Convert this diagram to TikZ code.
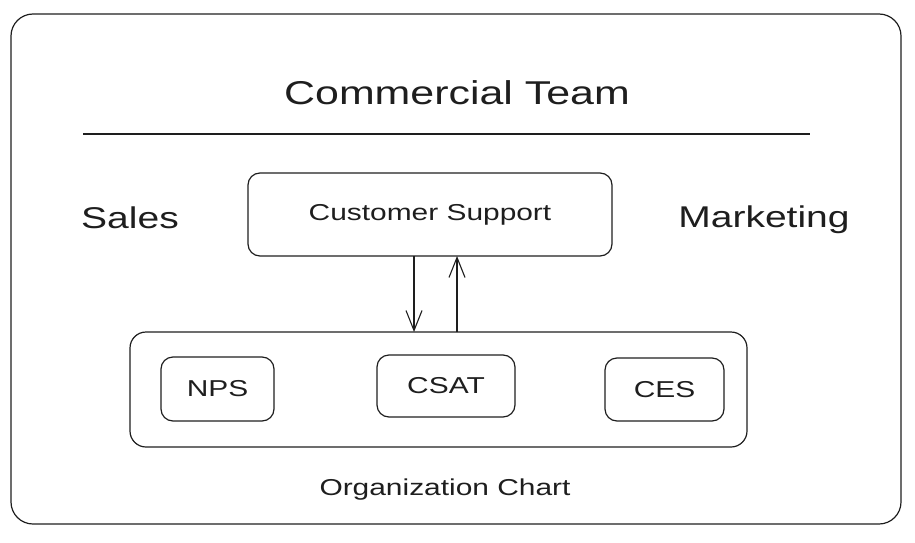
\documentclass[tikz,border=0pt]{standalone}
\usepackage{fontspec}
\setmainfont{Liberation Sans}[FakeStretch=1.3]
\usetikzlibrary{arrows.meta}
\definecolor{ink}{HTML}{1E1E1E}

\begin{document}
\begin{tikzpicture}[x=1pt, y=-1pt, line width=1.2pt, draw=ink, text=ink,
    box/.style={draw, rounded corners=12pt, inner sep=0pt, outer sep=0pt},
    titletext/.style={anchor=base, font=\fontsize{33}{40}\selectfont},
    sidetext/.style={anchor=base, font=\fontsize{30}{36}\selectfont},
    smalltext/.style={font=\fontsize{23}{28}\selectfont},
    flow/.style={-{Straight Barb[length=20pt, width=16pt, line width=1.1pt]}, line width=1.1pt}]
    \useasboundingbox (0,0) rectangle (915,543);

    % Frame and heading
    \node[box, rounded corners=22pt, minimum width=890pt, minimum height=510pt] at (456, 269) (team) {};
    \node[titletext] at (457, 104) (title) {Commercial Team};
    \coordinate (rule-l) at (83, 134);
    \coordinate (rule-r) at (810, 134);
    \draw (rule-l) -- (rule-r);

    \node[sidetext] at (130, 228) (sales) {Sales};
    \node[sidetext] at (764, 227) (marketing) {Marketing};

    % Customer support
    \node[box, smalltext, minimum width=364pt, minimum height=83pt] at (430, 214.5) (cs) {Customer Support};

    % Organization chart
    \node[box, rounded corners=16pt, minimum width=617pt, minimum height=115pt] at (438.5, 389.5) (org) {};
    \node[box, smalltext, minimum width=113pt, minimum height=64pt] at (217.5, 389) (nps) {NPS};
    \node[box, smalltext, minimum width=138pt, minimum height=62pt] at (446, 386) (csat) {CSAT};
    \node[box, smalltext, minimum width=119pt, minimum height=63pt] at (664.5, 389.5) (ces) {CES};
    \node[smalltext, anchor=base] at (445, 495) (orgname) {Organization Chart};

    \draw[flow] ([xshift=-16pt]cs.south) -- ([xshift=-16pt]cs.south |- org.north);
    \draw[flow] ([xshift=27pt]cs.south |- org.north) -- ([xshift=27pt]cs.south);
\end{tikzpicture}
\end{document}
